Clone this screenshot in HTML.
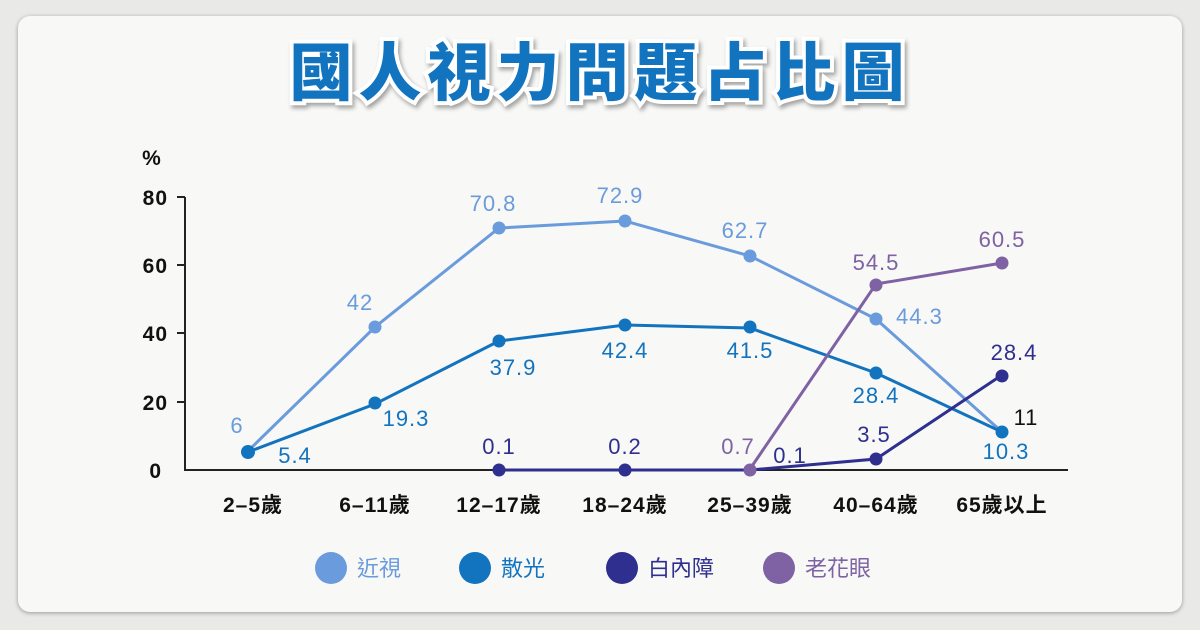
<!DOCTYPE html>
<html><head><meta charset="utf-8"><style>
html,body{margin:0;padding:0;width:1200px;height:630px;background:#e9e9e7;overflow:hidden}
.card{position:absolute;left:18px;top:16px;width:1164px;height:596px;background:#f8f8f6;border-radius:12px;box-shadow:0 1px 4px rgba(0,0,0,.35)}
svg{position:absolute;left:0;top:0}
text{font-family:"Liberation Sans","Noto Sans CJK TC",sans-serif}
</style></head><body>
<div class="card"></div>
<svg width="1200" height="630" viewBox="0 0 1200 630">
<text x="600" y="95" text-anchor="middle" font-size="63" font-weight="900" fill="#1273bf" stroke="#fff" stroke-width="8" paint-order="stroke" style="filter:drop-shadow(2px 3px 2px rgba(0,0,0,.35));letter-spacing:6px" font-family="Noto Sans CJK TC">國人視力問題占比圖</text>
<g fill="#111" font-size="21" font-weight="bold" style="letter-spacing:1px">
<text x="152" y="165" text-anchor="middle">%</text>
<text x="168" y="205" text-anchor="end">80</text>
<text x="168" y="273" text-anchor="end">60</text>
<text x="168" y="341" text-anchor="end">40</text>
<text x="168" y="410" text-anchor="end">20</text>
<text x="162" y="478" text-anchor="end">0</text>
</g>
<g stroke="#222" stroke-width="2" fill="none">
<path d="M185 197V470H1068"/>
<path d="M177 197H185M177 265H185M177 333H185M177 402H185"/>
</g>
<g fill="#111" font-size="21" font-weight="bold" text-anchor="middle" style="letter-spacing:1px">
<text x="253" y="512">2–5歲</text><text x="375" y="512">6–11歲</text><text x="499" y="512">12–17歲</text><text x="625" y="512">18–24歲</text><text x="750" y="512">25–39歲</text><text x="876" y="512">40–64歲</text><text x="1002" y="512">65歲以上</text>
</g>
<g stroke-width="3" fill="none">
<polyline stroke="#6a9bdc" points="248,451 375,327 499,228 625,221 750,256 876,319 1002,432"/>
<polyline stroke="#1273bf" points="248,452 375,404 499,341 625,325 750,328 876,373 1002,432"/>
<polyline stroke="#2e2f8f" points="499,470 625,470 750,470 876,459 1002,375"/>
<polyline stroke="#7f62a3" points="750,469 876,284 1002,263"/>
</g>
<g fill="#6a9bdc"><circle cx="375" cy="327" r="6.5"/><circle cx="499" cy="228" r="6.5"/><circle cx="625" cy="221" r="6.5"/><circle cx="750" cy="256" r="6.5"/><circle cx="876" cy="319" r="6.5"/></g>
<g fill="#1273bf"><circle cx="248" cy="452" r="7"/><circle cx="375" cy="403" r="6.5"/><circle cx="499" cy="341" r="6.5"/><circle cx="625" cy="325" r="6.5"/><circle cx="750" cy="327" r="6.5"/><circle cx="876" cy="373" r="6.5"/><circle cx="1002" cy="432" r="6.5"/></g>
<g fill="#2e2f8f"><circle cx="499" cy="470" r="6.5"/><circle cx="625" cy="470" r="6.5"/><circle cx="876" cy="459" r="6.5"/><circle cx="1002" cy="376" r="6.5"/></g>
<g fill="#7f62a3"><circle cx="750" cy="470" r="6.5"/><circle cx="876" cy="285" r="6.5"/><circle cx="1002" cy="263" r="6.5"/></g>
<g font-size="22" text-anchor="middle" style="letter-spacing:1px">
<g fill="#6a9bdc"><text x="237" y="433">6</text><text x="360" y="310">42</text><text x="493" y="211">70.8</text><text x="620" y="203">72.9</text><text x="745" y="238">62.7</text><text x="896" y="324" text-anchor="start">44.3</text></g>
<g fill="#1273bf"><text x="295" y="463">5.4</text><text x="406" y="426">19.3</text><text x="513" y="375">37.9</text><text x="625" y="358">42.4</text><text x="750" y="358">41.5</text><text x="876" y="403">28.4</text><text x="1006" y="459">10.3</text></g>
<g fill="#2e2f8f"><text x="499" y="454">0.1</text><text x="625" y="454">0.2</text><text x="790" y="463">0.1</text><text x="874" y="442">3.5</text><text x="1014" y="360">28.4</text></g>
<g fill="#7f62a3"><text x="738" y="454">0.7</text><text x="876" y="270">54.5</text><text x="1002" y="247">60.5</text></g>
<text x="1026" y="425" fill="#111">11</text>
</g>
<g font-size="22">
<circle cx="331" cy="568" r="16" fill="#6a9bdc"/><text x="357" y="576" fill="#6a9bdc">近視</text>
<circle cx="475" cy="568" r="16" fill="#1273bf"/><text x="501" y="576" fill="#1273bf">散光</text>
<circle cx="622" cy="568" r="16" fill="#2e2f8f"/><text x="648" y="576" fill="#2e2f8f">白內障</text>
<circle cx="779" cy="568" r="16" fill="#7f62a3"/><text x="805" y="576" fill="#7f62a3">老花眼</text>
</g>
</svg>
</body></html>
